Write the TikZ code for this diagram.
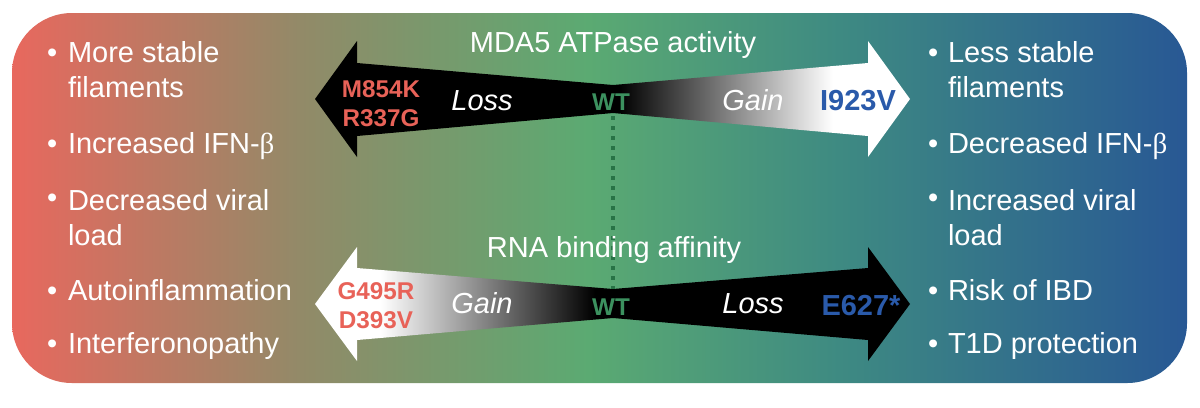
\documentclass[tikz,border=0pt]{standalone}
\usepackage{fontspec}
\setmainfont{Liberation Sans}
\newfontfamily\grk{Liberation Serif}
\definecolor{bgred}{RGB}{232,104,94}
\definecolor{bgolive}{RGB}{146,138,104}
\definecolor{bggreen}{RGB}{91,170,114}
\definecolor{bgteal}{RGB}{62,138,130}
\definecolor{bgblue}{RGB}{40,88,148}
\definecolor{mutred}{RGB}{232,98,88}
\definecolor{mutblue}{RGB}{42,90,170}
\definecolor{wtgreen}{RGB}{60,145,95}
\definecolor{dotgreen}{RGB}{40,115,70}
\pgfdeclarehorizontalshading{bgshade}{100bp}{color(0bp)=(bgred); color(25bp)=(bgred); color(37.3bp)=(bgolive); color(49.5bp)=(bggreen); color(60.2bp)=(bgteal); color(75bp)=(bgblue); color(100bp)=(bgblue)}
\pgfdeclarehorizontalshading{fadeR}{100bp}{color(0bp)=(black); color(26bp)=(black); color(62bp)=(white); color(100bp)=(white)}
\pgfdeclarehorizontalshading{fadeL}{100bp}{color(0bp)=(white); color(36bp)=(white); color(72bp)=(black); color(100bp)=(black)}
\begin{document}
\begin{tikzpicture}[x=0.02cm,y=-0.02cm,
  every node/.style={inner sep=0pt,outer sep=0pt},
  txt/.style={text=white,font=\fontsize{16.5}{19.8}\selectfont},
  point/.style={txt,anchor=base west,align=left},
  bul/.style={txt,anchor=base west},
  heading/.style={txt,anchor=base},
  trend/.style={txt,anchor=base,font=\fontsize{16.5}{19.8}\selectfont\itshape},
  mutL/.style={anchor=base,align=center,text=mutred,font=\fontsize{13.8}{16.4}\selectfont\bfseries},
  mutR/.style={anchor=base,text=mutblue,font=\fontsize{16.5}{19.8}\selectfont\bfseries},
  wt/.style={anchor=base,text=wtgreen,font=\fontsize{13.8}{16.4}\selectfont\bfseries},
  dotline/.style={dotgreen,line width=2.2pt,dash pattern=on 2.2pt off 3.5pt}]
\useasboundingbox (0,0) rectangle (1200,407);
\path[shading=bgshade,rounded corners=1.2cm] (12,13) rectangle (1187,383);
% ATPase arrow
\fill[black] (613,85) -- (357,63) -- (357,41) -- (315,99) -- (357,157) -- (357,136) -- (613,113) -- cycle;
\path[shading=fadeR] (613,85) -- (868,63) -- (868,41) -- (910,99) -- (868,157) -- (868,136) -- (613,113) -- cycle;
% RNA binding arrow
\path[shading=fadeL] (613,289) -- (357,268) -- (357,247) -- (315,304) -- (357,361) -- (357,340) -- (613,318) -- cycle;
\fill[black] (613,289) -- (868,268) -- (868,247) -- (910,304) -- (868,361) -- (868,340) -- (613,318) -- cycle;
\coordinate (atpmid) at (613,116);
\coordinate (rnamid) at (613,289);
\draw[dotline] (atpmid) -- (rnamid);
\node[heading] (atp) at (613,52) {MDA5 ATPase activity};
\node[heading] (rna) at (614,257) {RNA binding affinity};
\node[mutL] (atploss) at (381,126) {M854K\\R337G};
\node[trend] (atplo) at (482,110) {Loss};
\node[wt] (atpwt) at (611,110) {WT};
\node[trend] (atpga) at (753,110) {Gain};
\node[mutR] (atpgain) at (858,110) {I923V};
\node[mutL] (rnagain) at (376,328) {G495R\\D393V};
\node[trend] (rnaga) at (482,313) {Gain};
\node[wt] (rnawt) at (611,315) {WT};
\node[trend] (rnalo) at (753,313) {Loss};
\node[mutR] (rnaloss) at (861,315) {E627*};
% bullets
\foreach \y [count=\i] in {62,153,207,300,353}{
  \node[bul] (lb\i) at (47,\y) {\textbullet};
  \node[bul] (rb\i) at (928,\y) {\textbullet};
}
\node[point] (l1) at (68,97) {More stable\\filaments};
\node[point] (l2) at (68,153) {Increased IFN-{\grk β}};
\node[point] (l3) at (68,245) {Decreased viral\\load};
\node[point] (l4) at (68,300) {Autoinflammation};
\node[point] (l5) at (68,353) {Interferonopathy};
\node[point] (r1) at (948,97) {Less stable\\filaments};
\node[point] (r2) at (948,153) {Decreased IFN-{\grk β}};
\node[point] (r3) at (948,245) {Increased viral\\load};
\node[point] (r4) at (948,300) {Risk of IBD};
\node[point] (r5) at (948,353) {T1D protection};
\end{tikzpicture}
\end{document}
